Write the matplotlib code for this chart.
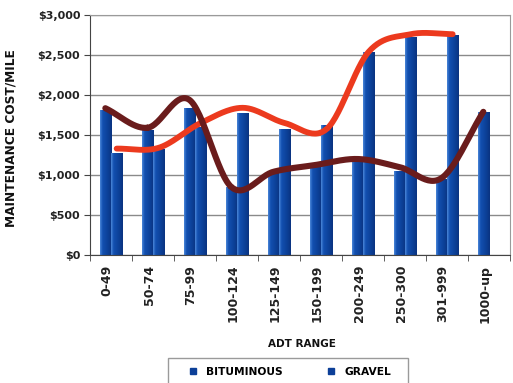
import numpy as np
import matplotlib.pyplot as plt
from matplotlib.colors import LinearSegmentedColormap
from matplotlib.lines import Line2D
from matplotlib.patches import Rectangle
import matplotlib.transforms as mtransforms

# Costo de mantenimiento por milla segun rango de ADT
rangos = ['0-49', '50-74', '75-99', '100-124', '125-149', '150-199',
          '200-249', '250-300', '301-999', '1000-up']
bituminous = [1815, 1560, 1840, 850, 1030, 1130, 1180, 1050, 950, 1790]
gravel = [1270, 1320, 1600, 1775, 1580, 1630, 2540, 2730, 2750, np.nan]

# Curvas de tendencia dibujadas sobre las barras
tendencia_bit = [1835, 1590, 1940, 850, 1040, 1125, 1200, 1100, 960, 1790]
tendencia_grav = [1330, 1340, 1650, 1840, 1650, 1575, 2540, 2760, 2760]

ticks_y = [0, 500, 1000, 1500, 2000, 2500, 3000]


def catmull_rom(x, y, n=30):
    x = np.asarray(x, float)
    y = np.asarray(y, float)
    px = np.concatenate([[2 * x[0] - x[1]], x, [2 * x[-1] - x[-2]]])
    py = np.concatenate([[2 * y[0] - y[1]], y, [2 * y[-1] - y[-2]]])
    t = np.linspace(0, 1, n)
    xs, ys = [], []
    for i in range(1, len(px) - 2):
        for p, out in ((px, xs), (py, ys)):
            p0, p1, p2, p3 = p[i - 1], p[i], p[i + 1], p[i + 2]
            out.append(0.5 * ((2 * p1) + (-p0 + p2) * t
                              + (2 * p0 - 5 * p1 + 4 * p2 - p3) * t ** 2
                              + (-p0 + 3 * p1 - 3 * p2 + p3) * t ** 3))
    return np.concatenate(xs), np.concatenate(ys)


fig = plt.figure(figsize=(5.13, 3.83), dpi=100)
ax = fig.add_axes([90 / 513, 1 - 255 / 383, 420 / 513, 240 / 383])

x = np.arange(len(rangos))
ancho = 0.27
azul = '#0c3f98'
grad = LinearSegmentedColormap.from_list(
    'barra', [(0, '#4b87d9'), (0.22, '#1250b0'), (0.7, '#0c3f96'), (1, '#0a3380')])

barras_b = ax.bar(x - ancho / 2, bituminous, ancho, color=azul, zorder=2)
mask = ~np.isnan(gravel)
barras_g = ax.bar(x[mask] + ancho / 2, np.array(gravel)[mask], ancho, color=azul, zorder=2)

# degradado horizontal dentro de cada barra
g = np.linspace(0, 1, 64).reshape(1, -1)
for rect in list(barras_b) + list(barras_g):
    x0, w, h = rect.get_x(), rect.get_width(), rect.get_height()
    im = ax.imshow(g, cmap=grad, aspect='auto', extent=[x0, x0 + w, 0, h],
                   zorder=2.1, interpolation='bilinear')
    im.set_clip_path(rect)

xg, yg = catmull_rom(x[:len(tendencia_grav)] + ancho / 2, tendencia_grav)
ax.plot(xg, yg, color='#ec3a1e', lw=4.2, solid_capstyle='round', zorder=3)
xb, yb = catmull_rom(x - ancho / 2, tendencia_bit)
ax.plot(xb, yb, color='#6a1c1c', lw=4.4, solid_capstyle='round', zorder=4)

ax.set_xlim(-0.5, len(rangos) - 0.5)
ax.set_ylim(0, 3000)

ax.set_yticks(ticks_y)
ax.set_yticklabels(['${:,}'.format(v) for v in ticks_y],
                   fontsize=8, fontweight='bold', color='#222222')
ax.yaxis.grid(True, color='#8a8a8a', lw=1)
ax.set_axisbelow(True)
ax.tick_params(axis='y', length=4, pad=3, color='#444444')

ax.set_xticks(x)
ax.set_xticklabels(rangos, rotation=90, fontsize=9,
                   fontweight='bold', color='#222222', va='top')
ax.set_xticks(np.arange(len(rangos) + 1) - 0.5, minor=True)
ax.tick_params(axis='x', which='major', length=0, pad=7)
ax.tick_params(axis='x', which='minor', length=4, color='#444444')
desplaza = mtransforms.ScaledTranslation(-4 / 100, 0, fig.dpi_scale_trans)
for lbl in ax.get_xticklabels():
    lbl.set_transform(lbl.get_transform() + desplaza)

for lado in ('left', 'bottom'):
    ax.spines[lado].set_color('#444444')
for lado in ('top', 'right'):
    ax.spines[lado].set_color('#9a9a9a')

fig.text(11 / 513, 1 - 138 / 383, 'MAINTENANCE COST/MILE', rotation=90,
         ha='center', va='center', fontsize=8.7, fontweight='bold', color='#111111')
fig.text(302 / 513, 1 - 344 / 383, 'ADT RANGE', ha='center', va='center',
         fontsize=7.5, fontweight='bold', color='#111111')

handles = [Line2D([], [], marker='s', ls='none', color=azul, markersize=4),
           Line2D([], [], marker='s', ls='none', color=azul, markersize=4)]
fig.legend(handles, ['BITUMINOUS', 'GRAVEL'], loc='center left',
           bbox_to_anchor=(182 / 513, 1 - 372 / 383), ncol=2, frameon=False,
           borderpad=0, handlelength=1.0, handletextpad=0.7, columnspacing=4.1,
           prop={'size': 7.7, 'weight': 'bold'})
fig.patches.append(Rectangle((168 / 513, -0.1), 240 / 513, 0.1 + 1 - 358 / 383,
                             transform=fig.transFigure, fill=False,
                             edgecolor='#9a9a9a', lw=1))

fig.savefig('out.png', dpi=100)
